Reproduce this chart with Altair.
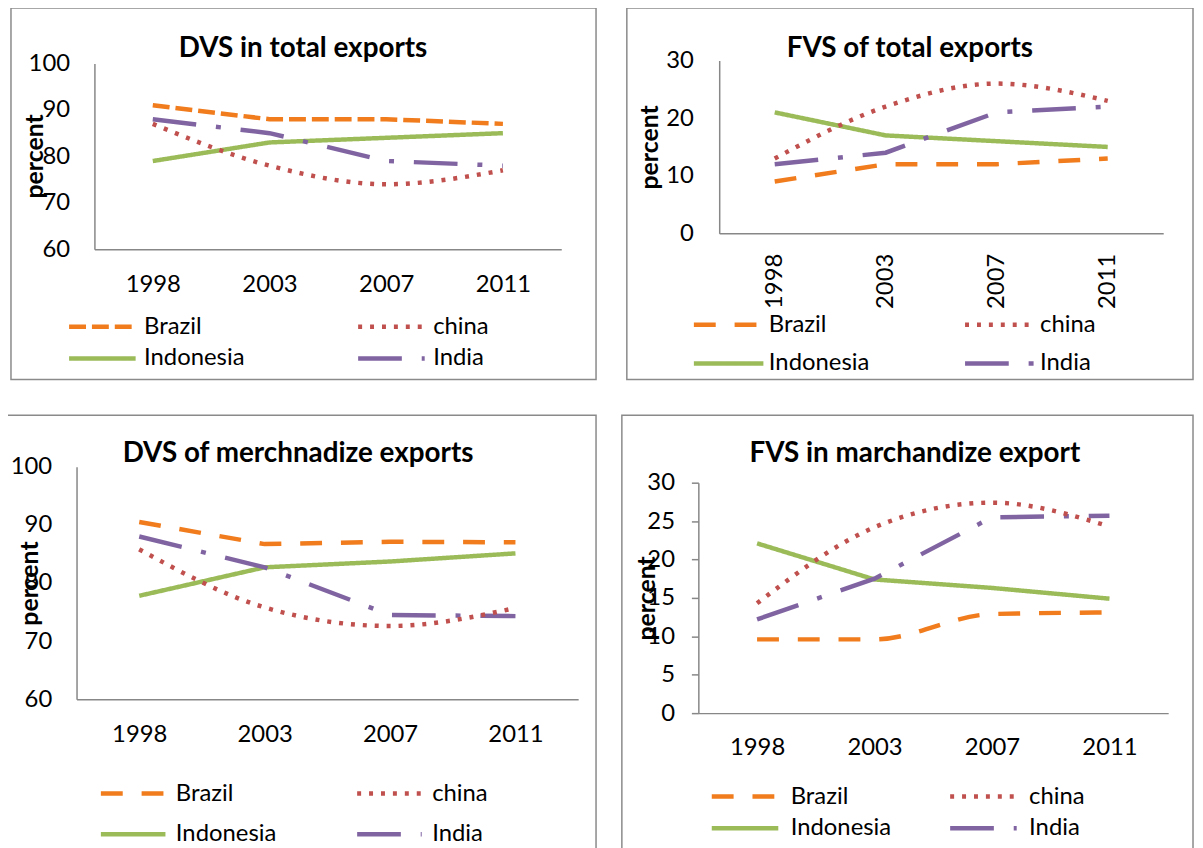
import altair as alt
import pandas as pd

years = ["1998", "2003", "2007", "2011"]
countries = ["Brazil", "china", "Indonesia", "India"]
# legend is filled column by column: Brazil/Indonesia left, china/India right
legend_order = ["Brazil", "Indonesia", "china", "India"]
colors = {"Brazil": "#F07C1D", "china": "#C0504D",
          "Indonesia": "#9BBB59", "India": "#8064A2"}

# DVS in total exports
dvs_total_brazil = [91, 88, 88, 87]
dvs_total_china = [87, 78, 74, 77]
dvs_total_indonesia = [79, 83, 84, 85]
dvs_total_india = [88, 85, 79, 78]

# FVS of total exports
fvs_total_brazil = [9, 12, 12, 13]
fvs_total_china = [13, 22, 26, 23]
fvs_total_indonesia = [21, 17, 16, 15]
fvs_total_india = [12, 14, 21, 22]

# DVS of merchnadize exports
dvs_merch_brazil = [90.5, 86.7, 87.1, 87.0]
dvs_merch_china = [85.8, 75.8, 72.6, 75.7]
dvs_merch_indonesia = [77.8, 82.7, 83.7, 85.1]
dvs_merch_india = [88.0, 82.7, 74.5, 74.3]

# FVS in marchandize export
fvs_merch_brazil = [9.6, 9.6, 12.9, 13.1]
fvs_merch_china = [14.3, 24.2, 27.4, 24.3]
fvs_merch_indonesia = [22.1, 17.4, 16.3, 14.9]
fvs_merch_india = [12.2, 17.5, 25.5, 25.7]

FONT = "Lato"
GRAY = "#878787"
DASH_SHORT = [17, 6]
DASH_LONG = [22, 19]
DOTS = [4, 8]
SOLID = [1, 0]
DASH_DOT = [44, 20, 5, 20]


def make_df(series):
    rows = []
    for c, vals in zip(countries, series):
        for y, v in zip(years, vals):
            rows.append({"year": y, "country": c, "value": v})
    return pd.DataFrame(rows)


def panel(title, series, ydomain, yvalues, brazil_dash, smooth, g):
    df = make_df(series)
    dashes = {"Brazil": brazil_dash, "china": DOTS,
              "Indonesia": SOLID, "India": DASH_DOT}
    leg = alt.Legend(
        orient="none", legendX=g["lx"], legendY=g["ly"], columns=2,
        columnPadding=g["cp"], rowPadding=g["rp"], symbolType="stroke",
        symbolSize=g["ss"], symbolStrokeWidth=4.5, labelFont=FONT,
        labelFontSize=24, labelColor="black", labelOffset=g["lo"], title=None,
        clipHeight=28,
    )
    x = alt.X(
        "year:O",
        scale=alt.Scale(type="point", range=g["xr"], padding=0.5),
        axis=alt.Axis(title=None, ticks=False, labelAngle=g["la"],
                      labelPadding=g["xlp"]),
    )
    y = alt.Y(
        "value:Q",
        scale=alt.Scale(domain=ydomain, range=g["yr"], nice=False, zero=False),
        axis=alt.Axis(title="percent", values=yvalues, offset=g["off"],
                      ticks=g["ticks"], tickSize=7, labelPadding=g["ylp"],
                      titleX=g["tx"], titleY=g["ty"], titleBaseline="middle",
                      titleAlign="center", titleAngle=270),
    )
    color = alt.Color(
        "country:N",
        scale=alt.Scale(domain=legend_order,
                        range=[colors[c] for c in legend_order]),
        legend=leg)
    dash = alt.StrokeDash(
        "country:N",
        scale=alt.Scale(domain=legend_order,
                        range=[dashes[c] for c in legend_order]),
        legend=leg,
    )
    layers = []
    for c in ["Indonesia", "India", "china", "Brazil"]:
        interp = "monotone" if c in smooth else "linear"
        layers.append(
            alt.Chart(df)
            .transform_filter(alt.datum.country == c)
            .mark_line(strokeWidth=4.5, interpolate=interp)
            .encode(x=x, y=y, color=color, strokeDash=dash)
        )
    one = pd.DataFrame({"k": [0]})
    box = alt.Chart(one).mark_rect(fill="transparent", stroke="#8a8a8a",
                                   strokeWidth=1.5).encode(
        x=alt.value(g["bx"][0]), x2=alt.value(g["bx"][1]),
        y=alt.value(g["by"][0]), y2=alt.value(g["by"][1]))
    ttl = alt.Chart(one).mark_text(font=FONT, fontSize=28, fontWeight="bold",
                                   align="center", baseline="middle",
                                   color="black").encode(
        x=alt.value(g["t"][0]), y=alt.value(g["t"][1]), text=alt.value(title))
    return alt.layer(box, *layers, ttl).properties(width=g["w"], height=g["h"])


tl = panel(
    "DVS in total exports",
    [dvs_total_brazil, dvs_total_china, dvs_total_indonesia, dvs_total_india],
    [60, 100], [60, 70, 80, 90, 100], DASH_SHORT, ["china"],
    dict(w=488, h=190, xr=[18, 488], yr=[190, 3], off=-18, ticks=False,
         ylp=25, xlp=24, la=0, tx=-60, ty=96, bx=[-66, 523], by=[-53, 321],
         t=[228, -12], lx=-10, ly=254, cp=111, rp=4, ss=4489, lo=6),
)
tr = panel(
    "FVS of total exports",
    [fvs_total_brazil, fvs_total_china, fvs_total_indonesia, fvs_total_india],
    [0, 30], [0, 10, 20, 30], DASH_LONG, ["china"],
    dict(w=468, h=174, xr=[21, 468], yr=[174, 0], off=-21, ticks=False,
         ylp=26, xlp=20, la=270, tx=-70, ty=87, bx=[-72, 498], by=[-53, 321],
         t=[213, -12], lx=-7, ly=252, cp=93, rp=11, ss=4900, lo=3),
)
bl = panel(
    "DVS of merchnadize exports",
    [dvs_merch_brazil, dvs_merch_china, dvs_merch_indonesia, dvs_merch_india],
    [60, 100], [60, 70, 80, 90, 100], DASH_LONG, ["china"],
    dict(w=505, h=234, xr=[0, 505], yr=[234, 0], off=0, ticks=False,
         ylp=25, xlp=24, la=0, tx=-47, ty=117, bx=[-70, 523], by=[-52, 395],
         t=[223, -13], lx=22, ly=315, cp=78, rp=13, ss=4225, lo=8),
)
br = panel(
    "FVS in marchandize export",
    [fvs_merch_brazil, fvs_merch_china, fvs_merch_indonesia, fvs_merch_india],
    [0, 30], [0, 5, 10, 15, 20, 25, 30], DASH_LONG, ["china", "Brazil"],
    dict(w=473, h=248, xr=[0, 473], yr=[248, 16], off=0, ticks=True,
         ylp=17, xlp=23, la=0, tx=-52, ty=132, bx=[-77, 498], by=[-52, 395],
         t=[218, -13], lx=11, ly=318, cp=56, rp=4, ss=4489, lo=10),
)

row1 = alt.hconcat(tl, tr, spacing=27).resolve_scale(
    color="independent", strokeDash="independent", x="independent", y="independent")
row2 = alt.hconcat(bl, br, spacing=22).resolve_scale(
    color="independent", strokeDash="independent", x="independent", y="independent")

chart = (
    alt.vconcat(row1, row2, spacing=32)
    .resolve_scale(color="independent", strokeDash="independent")
    .properties(padding={"top": -5, "left": -3, "right": 0, "bottom": 0})
    .configure_view(stroke="transparent")
    .configure_axis(
        domainColor=GRAY, domainWidth=1.5, grid=False, tickColor=GRAY,
        tickWidth=1.5, labelFont=FONT, labelFontSize=24, labelColor="black",
        titleFont=FONT, titleFontSize=25, titleFontWeight="bold",
        titleColor="black",
    )
    .configure_legend(labelFont=FONT, labelFontSize=24, labelLimit=0)
)

chart.save("out.html", embed_options={"renderer": "svg", "actions": False})
